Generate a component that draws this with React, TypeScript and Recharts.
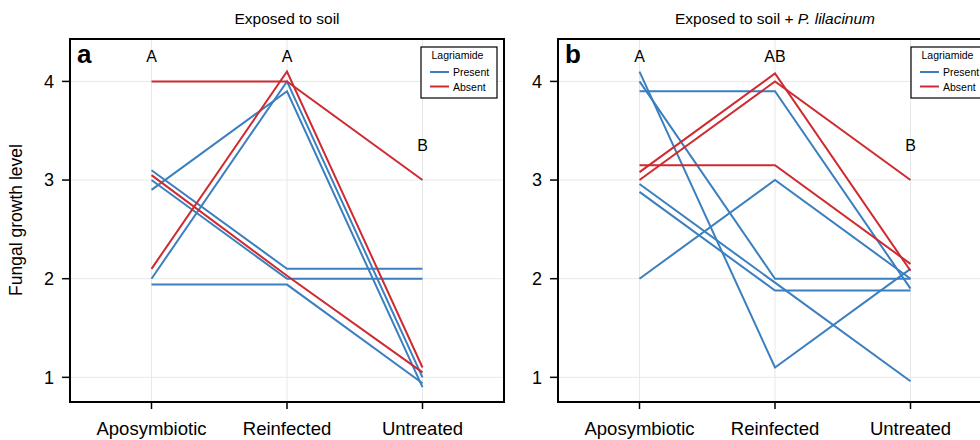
import React from 'react';
import { LineChart, Line, XAxis, YAxis, CartesianGrid, ReferenceDot } from 'recharts';

const FONT = '"Liberation Sans", Arial, Helvetica, sans-serif';
const BLUE = '#3a7fbf';
const RED = '#cf2a2f';

const groups = ['Aposymbiotic', 'Reinfected', 'Untreated'];
const yTicks = [1, 2, 3, 4];
const yDomain = [0.75, 4.43];

// panel a - exposed to soil (one array per beetle: Aposymbiotic, Reinfected, Untreated)
const soilPresent = [
  [2.0, 4.0, 1.0],
  [2.9, 3.9, 0.9],
  [3.1, 2.1, 2.1],
  [3.0, 2.0, 2.0],
  [1.94, 1.94, 0.94],
];
const soilAbsent = [
  [4.0, 4.0, 3.0],
  [2.1, 4.1, 1.1],
  [3.05, 2.03, 1.05],
];
const soilLetters = ['A', 'A', 'B'];

// panel b - exposed to soil + P. lilacinum
const lilacPresent = [
  [4.1, 1.1, 2.1],
  [4.0, 2.0, 2.0],
  [3.9, 3.9, 1.9],
  [2.0, 3.0, 2.0],
  [2.96, 1.96, 0.96],
  [2.88, 1.88, 1.88],
];
const lilacAbsent = [
  [3.0, 4.0, 3.0],
  [3.08, 4.08, 2.08],
  [3.15, 3.15, 2.15],
];
const lilacLetters = ['A', 'AB', 'B'];

// height of the significance letters (in data units)
const letterY = [4.25, 4.25, 3.35];

// chart box geometry (shared by both panels)
const CHART_W = 520;
const CHART_H = 440;
const M_TOP = 39;
const M_RIGHT = 16;
const Y_W = 70;
const X_H = 38;

function buildRows(present: number[][], absent: number[][]) {
  return groups.map((g, i) => {
    const row: Record<string, string | number> = { group: g };
    present.forEach((s, k) => {
      row['p' + k] = s[i];
    });
    absent.forEach((s, k) => {
      row['n' + k] = s[i];
    });
    return row;
  });
}

interface PanelProps {
  left: number;
  present: number[][];
  absent: number[][];
  letters: string[];
}

const Panel: React.FC<PanelProps> = ({ left, present, absent, letters }) => {
  const rows = buildRows(present, absent);
  const frame = { stroke: '#000', strokeWidth: 2 };
  return (
    <div style={{ position: 'absolute', left, top: 0 }}>
      <LineChart width={CHART_W} height={CHART_H} data={rows} margin={{ top: M_TOP, right: M_RIGHT, bottom: 0, left: 0 }}>
        <CartesianGrid stroke="#e8e8e8" strokeWidth={1} />
        <XAxis
          dataKey="group"
          interval={0}
          padding={{ left: 81.5, right: 81.5 }}
          height={X_H}
          tickSize={7}
          tickMargin={13}
          tick={{ fill: '#000', fontSize: 18.5, fontFamily: FONT }}
          tickLine={{ stroke: '#000', strokeWidth: 1.5 }}
          axisLine={frame}
        />
        <YAxis
          domain={yDomain}
          ticks={yTicks}
          allowDataOverflow
          width={Y_W}
          tickSize={8}
          tickMargin={8}
          tick={{ fill: '#000', fontSize: 18, fontFamily: FONT }}
          tickLine={{ stroke: '#000', strokeWidth: 1.5 }}
          axisLine={frame}
        />
        {present.map((_, k) => (
          <Line
            key={'p' + k}
            dataKey={'p' + k}
            stroke={BLUE}
            strokeWidth={2}
            dot={false}
            isAnimationActive={false}
          />
        ))}
        {absent.map((_, k) => (
          <Line
            key={'n' + k}
            dataKey={'n' + k}
            stroke={RED}
            strokeWidth={2}
            dot={false}
            isAnimationActive={false}
          />
        ))}
        {letters.map((t, i) => (
          <ReferenceDot
            key={'l' + i}
            x={groups[i]}
            y={letterY[i]}
            r={0}
            stroke="none"
            fill="none"
            label={{ value: t, position: 'center', fill: '#000', fontSize: 16, fontFamily: FONT }}
          />
        ))}
      </LineChart>
    </div>
  );
};

const Frame: React.FC<{ left: number }> = ({ left }) => (
  <rect
    x={left + Y_W}
    y={M_TOP}
    width={CHART_W - Y_W - M_RIGHT}
    height={CHART_H - M_TOP - X_H}
    fill="none"
    stroke="#000"
    strokeWidth={2}
  />
);

const LegendBox: React.FC<{ x: number; y: number }> = ({ x, y }) => (
  <g fontFamily={FONT} fontSize={10.5}>
    <rect x={x} y={y} width={76} height={51} fill="#fff" stroke="#000" strokeWidth={1.2} />
    <text x={x + 10.5} y={y + 11.5} fill="#000">Lagriamide</text>
    <line x1={x + 9} x2={x + 28} y1={y + 25} y2={y + 25} stroke={BLUE} strokeWidth={2} />
    <text x={x + 32} y={y + 29} fill="#000">Present</text>
    <line x1={x + 9} x2={x + 28} y1={y + 39.5} y2={y + 39.5} stroke={RED} strokeWidth={2} />
    <text x={x + 32} y={y + 43.5} fill="#000">Absent</text>
  </g>
);

export default function App() {
  return (
    <div
      style={{
        position: 'absolute',
        left: 0,
        top: 0,
        width: 980,
        height: 440,
        overflow: 'hidden',
        background: '#fff',
        fontFamily: FONT,
      }}
    >
      <Panel left={0} present={soilPresent} absent={soilAbsent} letters={soilLetters} />
      <Panel left={488} present={lilacPresent} absent={lilacAbsent} letters={lilacLetters} />
      <svg width={980} height={440} style={{ position: 'absolute', left: 0, top: 0, pointerEvents: 'none' }}>
        <Frame left={0} />
        <Frame left={488} />
        <text
          transform="translate(22,220) rotate(-90)"
          textAnchor="middle"
          fontFamily={FONT}
          fontSize={17.5}
          fill="#000"
        >
          Fungal growth level
        </text>
        <text x={287} y={23.5} textAnchor="middle" fontFamily={FONT} fontSize={15.5} fill="#000">
          Exposed to soil
        </text>
        <text x={775} y={23.5} textAnchor="middle" fontFamily={FONT} fontSize={15.5} fill="#000">
          Exposed to soil + <tspan fontStyle="italic">P. lilacinum</tspan>
        </text>
        <text x={77} y={62.7} fontFamily={FONT} fontSize={26} fontWeight="bold" fill="#000">
          a
        </text>
        <text x={565} y={63} fontFamily={FONT} fontSize={26} fontWeight="bold" fill="#000">
          b
        </text>
        <LegendBox x={421} y={47} />
        <LegendBox x={911} y={47} />
      </svg>
    </div>
  );
}
